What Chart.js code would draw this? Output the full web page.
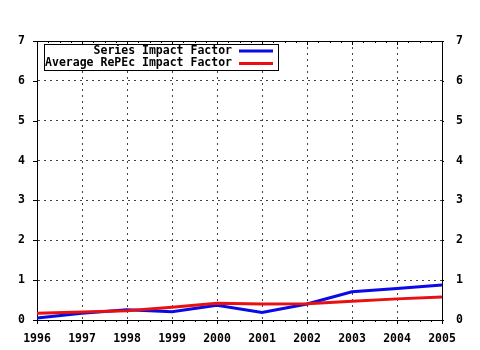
<!DOCTYPE html>
<html>
<head>
<meta charset="utf-8">
<script src="https://cdn.jsdelivr.net/npm/chart.js@4"></script>
<style>
html,body{margin:0;padding:0;background:#fff;}
#wrap{width:480px;height:350px;position:relative;}
</style>
</head>
<body>
<div id="wrap"><canvas id="c" width="480" height="350"></canvas></div>
<script>
const years = [1996, 1997, 1998, 1999, 2000, 2001, 2002, 2003, 2004, 2005];
const seriesImpactFactor = [0.05, 0.17, 0.26, 0.21, 0.37, 0.19, 0.40, 0.71, 0.79, 0.88];
const averageRepecImpactFactor = [0.17, 0.20, 0.23, 0.32, 0.42, 0.40, 0.41, 0.47, 0.53, 0.58];
const seriesNames = ['Series Impact Factor', 'Average RePEc Impact Factor'];
const yMin = 0, yMax = 7;

const FONT = {family: '"DejaVu Sans Mono", "Liberation Mono", monospace', size: 11.5, weight: 'bold'};
const BLUE = '#0a0ae6';
const RED = '#e81010';

const framePlugin = {
  id: 'frame',
  afterDatasetsDraw(chart) {
    const ctx = chart.ctx;
    const bx = 44.5, by = 44.5, bw = 234, bh = 26;
    ctx.save();
    ctx.fillStyle = '#fff';
    ctx.fillRect(bx, by, bw, bh);
    ctx.strokeStyle = '#000';
    ctx.lineWidth = 1;
    ctx.strokeRect(bx, by, bw, bh);
    ctx.font = `${FONT.weight} ${FONT.size}px ${FONT.family}`;
    ctx.textAlign = 'right';
    ctx.textBaseline = 'middle';
    ctx.fillStyle = '#000';
    const colors = [BLUE, RED];
    const rows = [51, 63.5];
    seriesNames.forEach((n, i) => {
      ctx.fillText(n, 232, rows[i]);
      ctx.strokeStyle = colors[i];
      ctx.lineWidth = 3;
      ctx.beginPath();
      ctx.moveTo(239, rows[i]);
      ctx.lineTo(273, rows[i]);
      ctx.stroke();
    });
    ctx.restore();
  },
  afterDraw(chart) {
    const ctx = chart.ctx;
    const xs = chart.scales.x, ys = chart.scales.y;
    const a = chart.chartArea;
    ctx.save();
    ctx.strokeStyle = '#000';
    ctx.lineWidth = 1;
    ctx.beginPath();
    ctx.moveTo(a.left, Math.round(a.top) + 0.5);
    ctx.lineTo(a.right, Math.round(a.top) + 0.5);
    for (let i = 0; i < years.length; i++) {
      for (let k = 0; k < 4; k++) {
        if (i === years.length - 1 && k > 0) break;
        const v = years[i] + k / 4;
        const px = Math.round(xs.getPixelForValue(v)) + 0.5;
        const len = k === 0 ? 4 : 2;
        ctx.moveTo(px, a.bottom);
        ctx.lineTo(px, a.bottom + len);
        ctx.moveTo(px, a.top);
        ctx.lineTo(px, a.top + len);
      }
    }
    for (let v = yMin; v <= yMax; v++) {
      const py = Math.round(ys.getPixelForValue(v)) + 0.5;
      ctx.moveTo(a.left - 4, py);
      ctx.lineTo(a.left, py);
      ctx.moveTo(a.right, py);
      ctx.lineTo(a.right + 2, py);
    }
    ctx.stroke();
    ctx.restore();
  }
};

new Chart(document.getElementById('c'), {
  type: 'line',
  data: {
    datasets: [
      {
        label: seriesNames[1],
        data: years.map((y, i) => ({x: y, y: averageRepecImpactFactor[i]})),
        borderColor: RED,
        borderWidth: 3,
        pointRadius: 0,
        tension: 0,
        fill: false,
        yAxisID: 'y'
      },
      {
        label: seriesNames[0],
        data: years.map((y, i) => ({x: y, y: seriesImpactFactor[i]})),
        borderColor: BLUE,
        borderWidth: 3,
        pointRadius: 0,
        tension: 0,
        fill: false,
        yAxisID: 'y'
      }
    ]
  },
  options: {
    responsive: false,
    animation: false,
    devicePixelRatio: 1,
    layout: {padding: {top: 41, left: 0, right: 0, bottom: 0}},
    plugins: {legend: {display: false}, tooltip: {enabled: false}},
    scales: {
      x: {
        type: 'linear',
        position: 'bottom',
        min: years[0],
        max: years[years.length - 1],
        afterFit(s) { s.height = 30; },
        afterBuildTicks(s) { s.ticks = years.map(v => ({value: v})); },
        ticks: {
          font: FONT,
          color: '#000',
          padding: 12,
          maxRotation: 0,
          autoSkip: false,
          callback: v => String(v)
        },
        grid: {color: '#444', lineWidth: 1, drawTicks: false},
        border: {display: true, color: '#000', width: 1, dash: [2, 4]}
      },
      y: {
        position: 'left',
        min: yMin,
        max: yMax,
        afterFit(s) { s.width = 37; },
        ticks: {stepSize: 1, font: FONT, color: '#000', padding: 12},
        grid: {color: '#444', lineWidth: 1, drawTicks: false},
        border: {display: true, color: '#000', width: 1, dash: [2, 4]}
      },
      y2: {
        position: 'right',
        min: yMin,
        max: yMax,
        afterFit(s) { s.width = 38; },
        ticks: {stepSize: 1, font: FONT, color: '#000', padding: 14},
        grid: {drawOnChartArea: false, drawTicks: false},
        border: {display: true, color: '#000', width: 1}
      }
    }
  },
  plugins: [framePlugin]
});
</script>
</body>
</html>
